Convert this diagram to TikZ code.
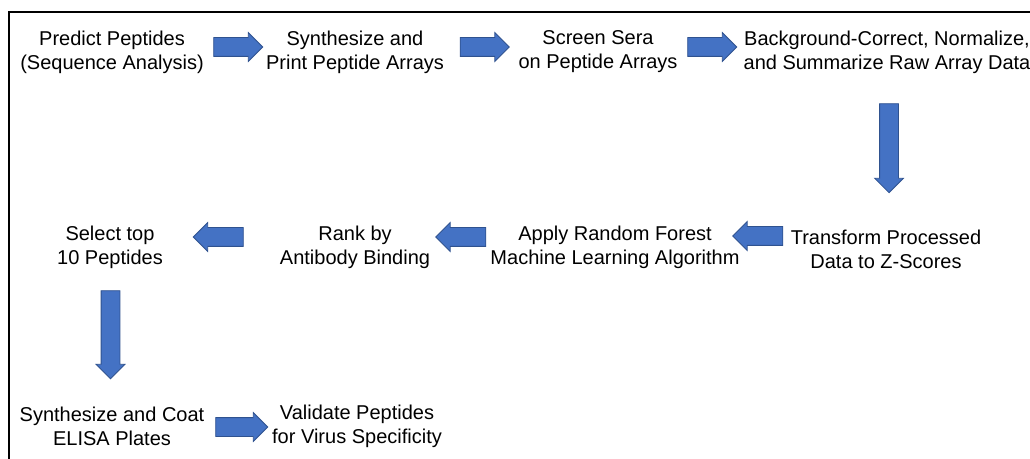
\documentclass[tikz,border=0pt]{standalone}
\usepackage{fontspec}
\setmainfont{Liberation Sans}
\usetikzlibrary{shapes.arrows}
\definecolor{flowblue}{HTML}{4472C4}
\definecolor{flowedge}{HTML}{2F528F}

\begin{document}
\begin{tikzpicture}[x=0.75pt, y=-0.75pt,
  stage/.style={align=center, inner sep=0pt,
    font=\fontsize{15}{18}\selectfont},
  blk/.style={single arrow, draw=flowedge, fill=flowblue, line width=0.6pt,
    inner xsep=0pt, inner ysep=6.75pt, single arrow head extend=3.75pt,
    minimum height=#1}
]
  \useasboundingbox (0,0) rectangle (1030,459);

  % Frame (runs off the right and bottom)
  \draw[line width=1.1pt] (1040,12) -- (9,12) -- (9,470);

  % Top row
  \node[stage] (predict) at (112,52) {Predict Peptides\\(Sequence Analysis)};
  \node[stage] (print) at (355,52) {Synthesize and\\Print Peptide Arrays};
  \node[stage] (screen) at (598,52) {Screen Sera\\on Peptide Arrays};
  \node[stage] (norm) at (887,52)
    {Background-Correct, Normalize,\\and Summarize Raw Array Data};

  % Middle row
  \node[stage] (zscore) at (886,249) {Transform Processed\\Data to Z-Scores};
  \node[stage] (forest) at (615,247)
    {Apply Random Forest\\Machine Learning Algorithm};
  \node[stage] (rank) at (355,247) {Rank by\\Antibody Binding};
  \node[stage] (top) at (110,247) {Select top\\10 Peptides};

  % Bottom row
  \node[stage] (elisa) at (112,426.5) {Synthesize and Coat\\ELISA Plates};
  \node[stage] (valid) at (357,426.5) {Validate Peptides\\for Virus Specificity};

  % Block arrows
  \node[blk=36.75pt] (a1) at (233.5,47) {};
  \node[blk=36.75pt] (a2) at (480,47) {};
  \node[blk=36.75pt] (a3) at (707.5,47) {};
  \node[blk=66.75pt, rotate=-90] (a4) at (889,143.5) {};
  \node[blk=37.5pt, rotate=180] (a5) at (762.5,236) {};
  \node[blk=37.5pt, rotate=180] (a6) at (465.5,237) {};
  \node[blk=37.5pt, rotate=180] (a7) at (223,237) {};
  \node[blk=66pt, rotate=-90] (a8) at (110.5,330) {};
  \node[blk=39pt] (a9) at (237,427) {};
\end{tikzpicture}
\end{document}
